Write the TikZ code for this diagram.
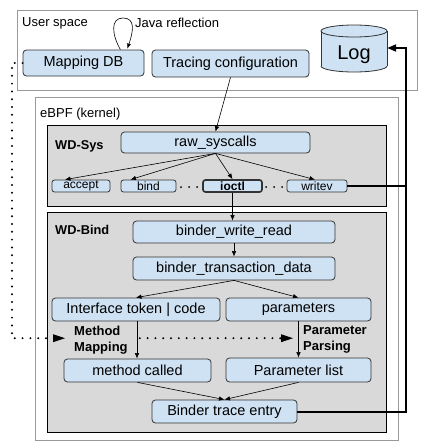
\documentclass[tikz,border=0pt]{standalone}
\usepackage{fontspec}
\setmainfont{Liberation Sans}
\usetikzlibrary{arrows.meta,calc}
\definecolor{boxblue}{HTML}{CFE2F3}
\definecolor{panelgray}{HTML}{D9D9D9}
\definecolor{framegray}{HTML}{999999}
\definecolor{edgedark}{HTML}{333333}
\tikzset{
 bluebox/.style={draw=edgedark, fill=boxblue, rounded corners=3.5pt, line width=0.8pt, inner sep=0pt, font=\fontsize{14.5}{17}\selectfont},
 smallbox/.style={bluebox, rounded corners=2.5pt, font=\fontsize{12}{14}\selectfont},
 frame/.style={draw=framegray, fill=white, line width=0.9pt},
 panel/.style={draw=black, fill=panelgray, line width=0.9pt},
 lbl/.style={inner sep=0pt, anchor=base west, font=\fontsize{13}{16}\selectfont},
 boldlbl/.style={inner sep=0pt, anchor=base west, font=\fontsize{12.8}{16}\selectfont\bfseries},
 sidelbl/.style={inner sep=0pt, anchor=west, align=left, font=\fontsize{13}{16}\selectfont\bfseries},
 arr/.style={draw=black, line width=0.6pt, -{Latex[length=5.5pt,width=4.5pt]}},
 dotline/.style={line width=2.2pt, dash pattern=on 0pt off 7.8pt, line cap=round, -{Triangle[length=12pt,width=8pt,line width=0pt]}},
 thickline/.style={line width=2pt, draw=black},
}
\begin{document}
\begin{tikzpicture}[x=1pt,y=-1pt]
\useasboundingbox (0,0) rectangle (422,447);
% frames
\draw[frame] (17,10) rectangle (417,90);
\draw[frame] (35,97) rectangle (398,440);
\draw[panel] (47,125) rectangle (386,206);
\draw[panel] (47,212) rectangle (386,432);
% labels
\node[lbl] (us) at (22,27) {User space};
\node[lbl] (jr) at (135,27.5) {Java reflection};
\node[lbl] (ebpf) at (40,117) {eBPF (kernel)};
\node[boldlbl] (wdsys) at (55,149) {WD-Sys};
\node[boldlbl] (wdbind) at (55,234) {WD-Bind};
% Log cylinder
\fill[boxblue] (321,31) rectangle (387,66);
\fill[boxblue] (354,66) ellipse [x radius=33, y radius=6];
\draw[edgedark, line width=0.8pt, fill=boxblue] (354,31) ellipse [x radius=33, y radius=6];
\draw[edgedark, line width=0.8pt] (321,31) -- (321,66) (387,31) -- (387,66);
\begin{scope}
\clip (315,66) rectangle (393,76);
\draw[edgedark, line width=0.8pt] (354,66) ellipse [x radius=33, y radius=6];
\end{scope}
\node[inner sep=0pt, minimum width=66pt, minimum height=34pt, font=\fontsize{20}{24}\selectfont] (log) at (354,55) {Log};
% user space nodes
\node[bluebox, minimum width=121pt, minimum height=26pt] (mdb) at (83.5,63) {Mapping DB};
\node[bluebox, minimum width=157pt, minimum height=27pt] (tc) at (230.5,63.5) {Tracing configuration};
% WD-Sys
\node[bluebox, minimum width=189pt, minimum height=21pt] (rs) at (215.5,142.5) {raw\_syscalls};
\node[smallbox, minimum width=58pt, minimum height=12pt] (accept) at (81,186) {accept};
\node[smallbox, minimum width=55pt, minimum height=12pt] (bind) at (148.5,186) {bind};
\node[smallbox, minimum width=59pt, minimum height=12pt, line width=1.7pt, font=\fontsize{12}{14}\selectfont\bfseries] (ioctl) at (232.5,186) {ioctl};
\node[smallbox, minimum width=60pt, minimum height=12pt] (writev) at (317,186) {writev};
\foreach \x in {181,189,197,266,274,282} \fill (\x,187) circle (1);
% WD-Bind
\node[bluebox, minimum width=202pt, minimum height=22pt] (bwr) at (234,232) {binder\_write\_read};
\node[bluebox, minimum width=202pt, minimum height=23pt] (btd) at (234,268.5) {binder\_transaction\_data};
\node[bluebox, minimum width=168pt, minimum height=23pt] (iface) at (136,309.5) {Interface token | code};
\node[bluebox, minimum width=145pt, minimum height=23pt] (params) at (298.5,309.5) {parameters};
\node[bluebox, minimum width=147pt, minimum height=23pt] (mc) at (137.5,370.5) {method called};
\node[bluebox, minimum width=145pt, minimum height=24pt] (plist) at (298.5,370) {Parameter list};
\node[bluebox, minimum width=145pt, minimum height=23pt] (bte) at (224.5,411.5) {Binder trace entry};
\node[sidelbl] (mm) at (74,339.7) {Method\\Mapping};
\node[sidelbl] (pp) at (303,339.7) {Parameter\\Parsing};
% arrows
\draw[line width=0.6pt, -{Latex[length=5pt,width=4pt]}] ($(mdb.north east)+(-24,0)$) .. controls (112,35) and (110,18) .. (123,18) .. controls (136,18) and (133,32) .. ($(mdb.north east)+(-17,-1)$);
\draw[arr] (tc.south) -- (rs.north);
\draw[arr] (rs.south) -- ($(accept.north)+(-16,0)$);
\draw[arr] (rs.south) -- ($(bind.north)+(-18,0)$);
\draw[arr] (rs.south) -- (ioctl.north);
\draw[arr] (rs.south) -- ($(writev.north)+(-2,0)$);
\draw[arr] (ioctl.south) -- (ioctl.south |- bwr.north);
\draw[arr] (bwr.south) -- (btd.north);
\draw[arr] (btd.south) -- (iface.north);
\draw[arr] (btd.south) -- (params.north);
\draw[arr] ($(iface.south)+(1,0)$) -- ($(iface.south |- mc.north)+(1,0)$);
\draw[arr] (params.south) -- (params.south |- plist.north);
\draw[arr] (mc.south) -- (bte.north);
\draw[arr] (plist.south) -- (bte.north);
% log connections
\coordinate (rail) at (406,48);
\draw[thickline, -{Triangle[length=9pt,width=7pt]}] (bte.east) -| (rail) -- (rail -| log.east);
\draw[thickline] (writev.east) -- (writev.east -| rail);
% dotted mapping lines
\coordinate (dl) at (12,0);
\draw[dotline] (mdb.west) -- (mdb.west -| dl) |- ($(mm.west)+(-9,-1.5)$);
\draw[dotline] ($(mm.east)+(12,-1.5)$) -- ($(pp.west)+(-10,-1.5)$);
\end{tikzpicture}
\end{document}
